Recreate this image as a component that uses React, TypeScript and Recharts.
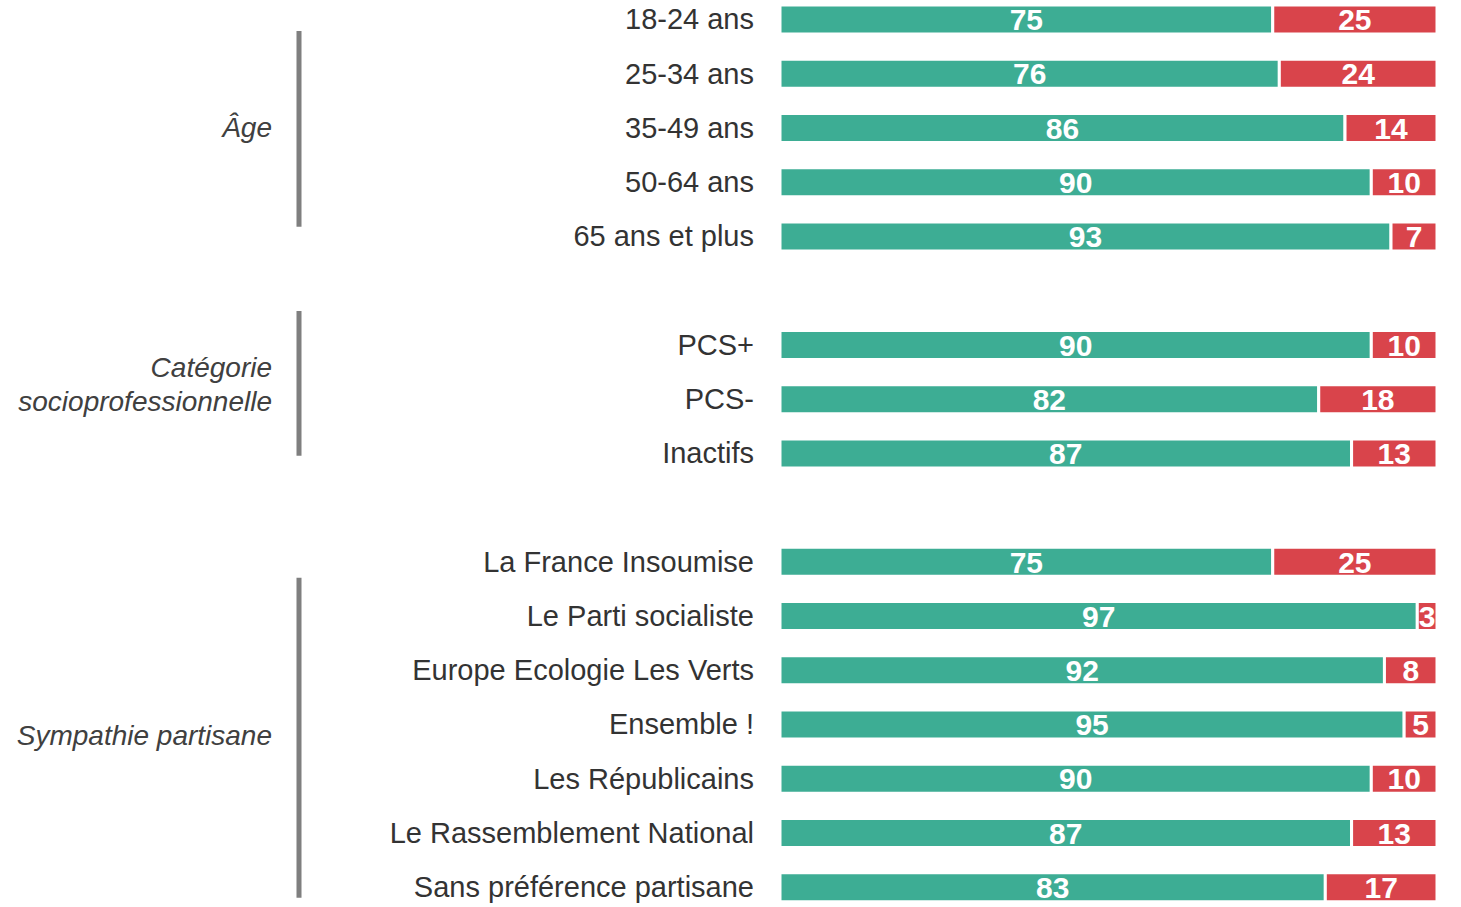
import React from 'react';
import { BarChart, Bar, XAxis, YAxis, LabelList } from 'recharts';

const categories = [
  '18-24 ans', '25-34 ans', '35-49 ans', '50-64 ans', '65 ans et plus',
  '',
  'PCS+', 'PCS-', 'Inactifs',
  '',
  'La France Insoumise', 'Le Parti socialiste', 'Europe Ecologie Les Verts', 'Ensemble !',
  'Les Républicains', 'Le Rassemblement National', 'Sans préférence partisane',
];
const greenValues = [75, 76, 86, 90, 93, null, 90, 82, 87, null, 75, 97, 92, 95, 90, 87, 83];
const redValues = [25, 24, 14, 10, 7, null, 10, 18, 13, null, 25, 3, 8, 5, 10, 13, 17];

// group brackets, in row units (row i spans i .. i+1)
const groupNames = [['Âge'], ['Catégorie', 'socioprofessionnelle'], ['Sympathie partisane']];
const groupStart = [0.72, 5.88, 10.8];
const groupEnd = [4.33, 8.55, 16.7];
const groupMid = [2.49, 7.23, 13.7];

const GREEN = '#3dad94';
const RED = '#d9444b';
const W = 1461;
const H = 907;
const TOP = -8;
const BOTTOM = -7;
const PITCH = (H - TOP - BOTTOM) / categories.length;

const data = categories.map((name, i) => ({ name, oui: greenValues[i], non: redValues[i] }));

const labelStyle = {
  fill: '#fff',
  fontFamily: '"Liberation Sans", Arial, sans-serif',
  fontWeight: 700,
  fontSize: 30,
};

export default function App() {
  const rowY = (r: number) => TOP + r * PITCH;
  return (
    <div style={{ position: 'absolute', left: 0, top: 0, width: W, height: H, overflow: 'hidden', background: '#fff' }}>
      <BarChart
        width={W}
        height={H}
        data={data}
        layout="vertical"
        margin={{ top: TOP, right: 24, bottom: BOTTOM, left: 0 }}
        barCategoryGap="0%"
      >
        <XAxis type="number" domain={[0, 100]} hide />
        <YAxis
          type="category"
          dataKey="name"
          width={780}
          axisLine={false}
          tickLine={false}
          tickSize={0}
          tickMargin={26}
          interval={0}
          tick={{ fill: '#333333', fontSize: 29, fontFamily: '"Liberation Sans", Arial, sans-serif' }}
        />
        <Bar dataKey="oui" stackId="s" fill={GREEN} stroke="#fff" strokeWidth={3} barSize={29} isAnimationActive={false}>
          <LabelList dataKey="oui" position="center" style={labelStyle} />
        </Bar>
        <Bar dataKey="non" stackId="s" fill={RED} stroke="#fff" strokeWidth={3} barSize={29} isAnimationActive={false}>
          <LabelList dataKey="non" position="center" style={labelStyle} />
        </Bar>
      </BarChart>
      <svg width={W} height={H} style={{ position: 'absolute', left: 0, top: 0, pointerEvents: 'none' }}>
        {groupNames.map((lines, g) => (
          <g key={g}>
            <line x1={299} x2={299} y1={rowY(groupStart[g])} y2={rowY(groupEnd[g])} stroke="#7f7f7f" strokeWidth={5} />
            {lines.map((t, k) => (
              <text
                key={k}
                x={272}
                y={rowY(groupMid[g]) + (k - (lines.length - 1) / 2) * 34}
                textAnchor="end"
                dominantBaseline="central"
                fontFamily='"Liberation Sans", Arial, sans-serif'
                fontStyle="italic"
                fontSize={28}
                fill="#404040"
              >
                {t}
              </text>
            ))}
          </g>
        ))}
      </svg>
    </div>
  );
}
